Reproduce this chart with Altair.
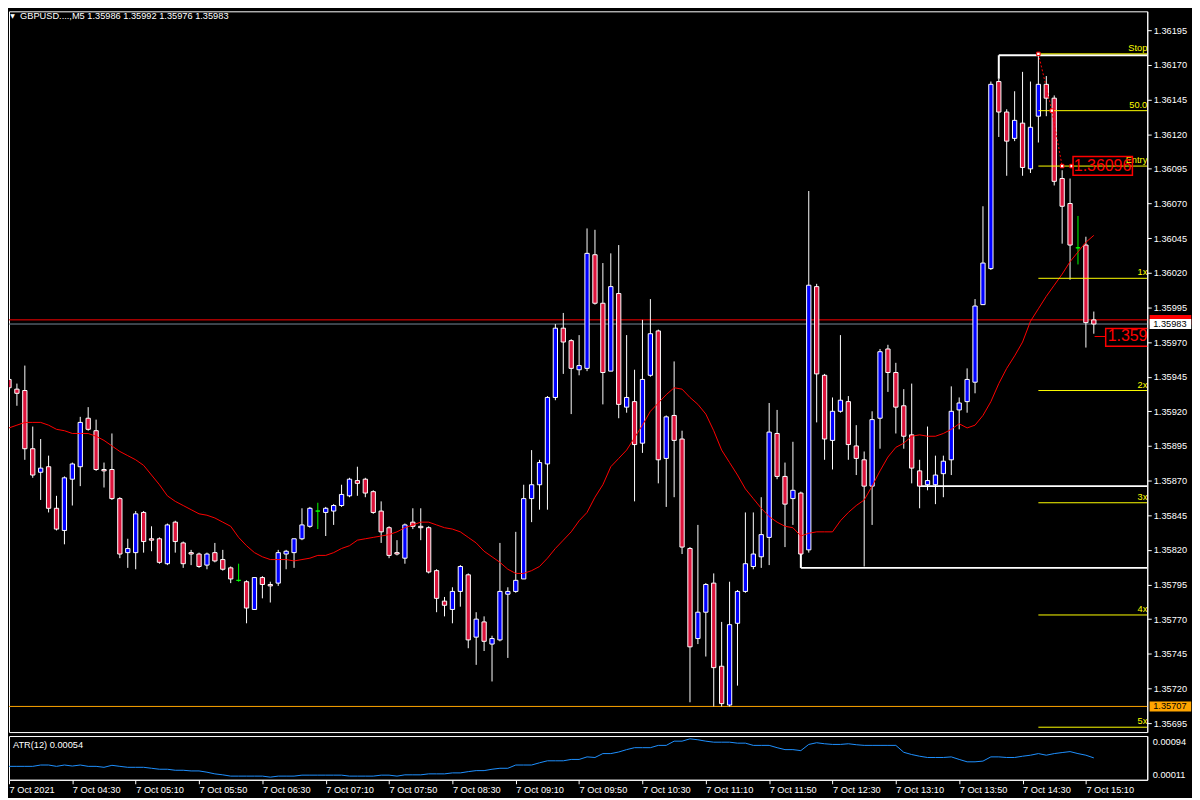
import altair as alt
import pandas as pd

FONT = "Liberation Sans"
FS = 9.3

# ---- GBPUSD M5 candles, prices in points (1e-5), bars 03:50 .. 15:15 ----
opens = [135943,135936,135935,135893,135876,135880,135850,135834,135871,135880,
         135915,135906,135878,135878,135857,135818,135818,135847,135828,135828,
         135810,135840,135825,135818,135817,135809,135818,135813,135807,135798,
         135797,135777,135800,135795,135796,135817,135818,135828,135837,135848,
         135847,135848,135852,135859,135870,135871,135862,135848,135836,135818,
         135814,135840,135837,135836,135805,135783,135777,135790,135802,135757,
         135768,135752,135755,135788,135790,135799,135857,135867,135882,135930,
         135980,135971,135950,135951,136033,135998,135949,136005,135923,135927,
         135897,135946,135978,135886,135917,135900,135821,135756,135775,135796,
         135736,135708,135767,135790,135808,135815,135829,135904,135873,135857,
         135861,135820,136010,135946,135899,135920,135927,135895,135885,135866,
         135915,135965,135948,135924,135903,135877,135867,135867,135875,135885,
         135921,135927,135941,135997,136023,136158,136136,136117,136128,136095,
         136133,136156,136146,136088,136070,136038,136040,135986]
highs = [135960,135940,135953,135909,135900,135888,135859,135873,135883,135916,
         135923,135914,135883,135904,135858,135828,135848,135848,135837,135829,
         135839,135841,135826,135820,135818,135818,135825,135820,135808,135810,
         135798,135800,135801,135797,135820,135820,135828,135850,135851,135854,
         135851,135853,135867,135872,135880,135872,135863,135855,135837,135827,
         135839,135850,135850,135837,135806,135786,135793,135809,135803,135775,
         135772,135758,135825,135793,135833,135867,135892,135885,135931,135983,
         135991,135972,135975,136052,136051,136027,136034,136040,135975,135950,
         135986,136001,135979,135917,135956,135906,135822,135838,135796,135803,
         135768,135797,135791,135847,135847,135858,135926,135921,135883,135898,
         135862,136079,136012,135947,135930,135975,135931,135910,135891,135920,
         135965,135968,135955,135936,135940,135885,135909,135888,135888,135938,
         135930,135951,136001,136068,136158,136160,136138,136151,136165,136158,
         136178,136162,136148,136094,136088,136061,136046,135992]
lows = [135935,135924,135885,135872,135856,135847,135834,135824,135852,135866,
        135906,135877,135865,135856,135814,135807,135806,135818,135819,135810,
        135809,135818,135807,135809,135807,135806,135811,135805,135796,135797,
        135767,135777,135785,135782,135794,135806,135807,135827,135836,135835,
        135830,135838,135851,135858,135859,135858,135846,135825,135814,135816,
        135810,135835,135827,135803,135775,135772,135767,135779,135749,135737,
        135747,135725,135754,135742,135789,135799,135840,135849,135849,135928,
        135947,135918,135946,135949,135997,135925,135949,135915,135919,135855,
        135890,135945,135868,135851,135858,135817,135710,135752,135743,135707,
        135707,135707,135722,135789,135806,135807,135809,135871,135822,135838,
        135807,135818,135912,135885,135878,135919,135885,135874,135808,135838,
        135893,135934,135904,135893,135868,135850,135863,135853,135858,135874,
        135907,135919,135933,135997,136022,136118,136090,136115,136090,136092,
        136114,136133,136083,136041,136015,136026,135966,135976]
closes = [135937,135933,135893,135874,135879,135850,135835,135872,135882,135912,
          135907,135878,135877,135857,135817,135821,135846,135826,135827,135811,
          135838,135826,135810,135817,135808,135817,135812,135806,135799,135798,
          135778,135800,135795,135794,135818,135819,135828,135838,135850,135848,
          135850,135852,135860,135871,135868,135861,135847,135833,135816,135817,
          135838,135837,135836,135804,135785,135780,135790,135808,135755,135770,
          135754,135756,135790,135790,135798,135857,135867,135883,135930,135980,
          135970,135951,135953,136034,135998,135948,136010,135925,135930,135896,
          135943,135976,135885,135916,135899,135822,135750,135775,135795,135735,
          135709,135766,135790,135810,135817,135831,135905,135873,135853,135863,
          135817,136011,135947,135900,135920,135928,135896,135886,135866,135914,
          135963,135948,135923,135902,135879,135866,135870,135874,135884,135920,
          135926,135943,135996,136027,136156,136136,136115,136130,136096,136125,
          136156,136146,136086,136068,136040,136038,135984,135983]

# red moving average (points)
ma_pts = [135908,135910,135912,135912,135912,135910,135907,135906,135904,135904,
          135904,135902,135899,135895,135891,135888,135885,135881,135874,135867,
          135859,135855,135852,135849,135846,135845,135843,135840,135837,135829,
          135823,135818,135815,135813,135813,135813,135812,135813,135814,135816,
          135816,135818,135821,135823,135827,135828,135829,135830,135831,135833,
          135836,135838,135840,135840,135838,135836,135835,135833,135829,135825,
          135819,135815,135811,135806,135803,135803,135805,135808,135814,135821,
          135827,135833,135841,135847,135858,135867,135880,135886,135892,135901,
          135910,135920,135926,135932,135937,135936,135930,135925,135918,135906,
          135892,135883,135874,135864,135857,135850,135844,135840,135837,135836,
          135830,135832,135833,135833,135833,135841,135847,135852,135856,135866,
          135877,135887,135894,135897,135902,135903,135902,135902,135904,135907,
          135911,135908,135910,135917,135927,135940,135951,135960,135970,135985,
          135994,136003,136011,136019,136028,136035,136042,136047]

# ATR(12) in points (1e-5)
atr_pts = [37.4,37.4,37.4,37.4,40.0,40.0,37.4,40.0,38.0,40.0,
           37.4,37.4,35.5,39.4,37.4,35.5,35.5,35.5,33.6,31.7,
           31.7,29.7,29.7,28.4,28.4,25.9,22.6,20.7,18.2,18.2,
           18.2,18.2,18.2,16.2,18.2,18.2,18.2,20.1,20.1,20.1,
           20.1,20.1,20.1,18.2,18.2,18.2,18.2,20.1,20.1,18.2,
           20.7,20.7,20.7,22.6,22.6,22.6,24.5,24.5,27.0,29.0,
           29.0,31.7,33.6,33.6,40.0,40.0,40.0,44.4,48.3,48.3,
           48.3,51.0,51.0,56.0,54.8,62.5,62.5,65.6,70.3,74.1,
           74.1,74.1,78.6,78.6,86.9,86.9,91.5,89.6,86.9,84.9,
           84.9,84.9,83.0,83.0,78.6,78.6,78.6,74.1,70.3,70.3,
           68.3,80.5,83.8,81.8,80.5,80.5,81.8,79.9,78.6,78.6,
           78.6,78.6,78.6,65.0,60.6,57.3,54.8,54.8,54.8,56.0,
           51.0,46.3,46.3,47.7,56.0,56.0,54.8,54.8,57.3,59.3,
           62.5,59.3,62.5,64.5,66.4,62.5,59.3,54.0]

time_labels = ["7 Oct 2021", "7 Oct 04:30", "7 Oct 05:10", "7 Oct 05:50", "7 Oct 06:30",
               "7 Oct 07:10", "7 Oct 07:50", "7 Oct 08:30", "7 Oct 09:10", "7 Oct 09:50",
               "7 Oct 10:30", "7 Oct 11:10", "7 Oct 11:50", "7 Oct 12:30", "7 Oct 13:10",
               "7 Oct 13:50", "7 Oct 14:30", "7 Oct 15:10"]
label_bars = [0, 8, 16, 24, 32, 40, 48, 56, 64, 72, 80, 88, 96, 104, 112, 120, 128, 136]
price_ticks = [1.35695, 1.35720, 1.35745, 1.35770, 1.35795, 1.35820, 1.35845, 1.35870,
               1.35895, 1.35920, 1.35945, 1.35970, 1.35995, 1.36020, 1.36045, 1.36070,
               1.36095, 1.36120, 1.36145, 1.36170, 1.36195]
atr_ticks = [0.00011, 0.00094]

hline_prices = [1.35986, 1.35983, 1.35707]
hline_colors = ["#FF0000", "#778899", "#FFA500"]

fib_names = ["Stop", "50.0", "Entry", "1x", "2x", "3x", "4x", "5x"]
fib_prices = [1.36178, 1.36137, 1.36097, 1.36016, 1.35935, 1.35854, 1.35773, 1.35692]
fib_start = 130

bracket_x1 = [125, 125, 115, 100, 100]
bracket_x2 = [143.75, 125, 143.75, 143.75, 100]
bracket_p1 = [1.36177, 1.36177, 1.35866, 1.35807, 1.35807]
bracket_p2 = [1.36177, 1.36160, 1.35866, 1.35807, 1.35817]

path_k = [130, 131.7, 133.0]
path_p = [1.36178, 1.36137, 1.36097]
marker_k = [130, 131.7, 133.0, 134.2]
marker_p = [1.36178, 1.36137, 1.36097, 1.36097]

header_text = "GBPUSD....,M5  1.35986 1.35992 1.35976 1.35983"
atr_title = "ATR(12) 0.00054"

X_MAX = 143.75
P_MIN, P_MAX = 1.356885, 1.362087

# ---------------- data frames ----------------
n = len(opens)
df = pd.DataFrame({
    "k": list(range(n)),
    "o": [v / 1e5 for v in opens],
    "h": [v / 1e5 for v in highs],
    "l": [v / 1e5 for v in lows],
    "c": [v / 1e5 for v in closes],
    "ma": [v / 1e5 for v in ma_pts],
})
df["kind"] = ["flat" if o == c else ("up" if c > o else "down") for o, c in zip(opens, closes)]
df["x0"] = df["k"] - 0.27
df["x1"] = df["k"] + 0.27

atr_df = pd.DataFrame({"k": list(range(n)), "atr": [v / 1e5 for v in atr_pts]})

xs = alt.Scale(domain=[0, X_MAX], nice=False, zero=False)
ys = alt.Scale(domain=[P_MIN, P_MAX], nice=False, zero=False)

yax = alt.Axis(orient="right", values=price_ticks, format=".5f", title=None, grid=False,
               labelColor="#FFFFFF", tickColor="#FFFFFF", domainColor="#FFFFFF",
               tickSize=4, labelPadding=2, labelFont=FONT, labelFontSize=FS,
               labelFlush=False, labelOverlap=False)


def X(f):
    return alt.X(f"{f}:Q", scale=xs, axis=None)


def Y(f):
    return alt.Y(f"{f}:Q", scale=ys, axis=yax)


kind_dom = ["up", "down", "flat"]
stroke_sc = alt.Scale(domain=kind_dom, range=["#FFFFFF", "#FFFFFF", "#00FF00"])
fill_sc = alt.Scale(domain=kind_dom, range=["#0000FF", "#DC143C", "#00FF00"])

layers = []

# horizontal price lines
for p, col in zip(hline_prices, hline_colors):
    layers.append(alt.Chart(pd.DataFrame({"p": [p]})).mark_rule(color=col, strokeWidth=1)
                  .encode(y=Y("p")))

# white bracket lines
br = pd.DataFrame({"x1": bracket_x1, "x2": bracket_x2, "p1": bracket_p1, "p2": bracket_p2})
layers.append(alt.Chart(br).mark_rule(color="#FFFFFF", strokeWidth=2, clip=True)
              .encode(x=X("x1"), x2="x2", y=Y("p1"), y2="p2"))

# candles
layers.append(alt.Chart(df).mark_rule(strokeWidth=1, clip=True).encode(
    x=X("k"), y=Y("l"), y2="h",
    stroke=alt.Stroke("kind:N", scale=stroke_sc, legend=None)))
layers.append(alt.Chart(df).mark_rect(strokeWidth=1, clip=True).encode(
    x=X("x0"), x2="x1", y=Y("o"), y2="c",
    fill=alt.Fill("kind:N", scale=fill_sc, legend=None),
    stroke=alt.Stroke("kind:N", scale=stroke_sc, legend=None)))

# moving average
layers.append(alt.Chart(df).mark_line(color="#FF0000", strokeWidth=1, clip=True)
              .encode(x=X("k"), y=Y("ma")))

# fib levels
fib = pd.DataFrame({"name": fib_names, "p": fib_prices,
                    "x1": [fib_start] * len(fib_names), "x2": [X_MAX] * len(fib_names)})
layers.append(alt.Chart(fib).mark_rule(color="#FFFF00", strokeWidth=1, clip=True)
              .encode(x=X("x1"), x2="x2", y=Y("p")))
layers.append(alt.Chart(fib).mark_text(color="#FFFF00", align="right", baseline="bottom", dy=-1,
                                       font=FONT, fontSize=FS, clip=True)
              .encode(x=X("x2"), y=Y("p"), text="name:N"))

# red dotted path with markers
path = pd.DataFrame({"k": path_k, "p": path_p})
layers.append(alt.Chart(path).mark_line(color="#FF0000", strokeWidth=1, strokeDash=[2, 2], clip=True)
              .encode(x=X("k"), y=Y("p")))
mk = pd.DataFrame({"k": marker_k, "p": marker_p})
layers.append(alt.Chart(mk).mark_square(size=12, fill="#FFFFFF", stroke="#FF0000", strokeWidth=1,
                                        opacity=1, clip=True)
              .encode(x=X("k"), y=Y("p")))

# entry price box
eb = pd.DataFrame({"x1": [134.375], "x2": [141.875], "p1": [1.360903], "p2": [1.361039],
                   "tx": [138.1], "tp": [1.36097], "t": ["1.36096"]})
layers.append(alt.Chart(eb).mark_rect(fillOpacity=0, stroke="#FF0000", strokeWidth=1.5, clip=True)
              .encode(x=X("x1"), x2="x2", y=Y("p1"), y2="p2"))
layers.append(alt.Chart(eb).mark_text(color="#FF0000", font=FONT, fontSize=16, align="center",
                                      baseline="middle", clip=True)
              .encode(x=X("tx"), y=Y("tp"), text="t:N"))

# current price box at the right edge (clipped)
cb = pd.DataFrame({"x1": [138.5], "x2": [147.0], "p1": [1.359669], "p2": [1.359798],
                   "lx": [137.1], "tx": [138.75], "tp": [1.35974], "t": ["1.35974"]})
layers.append(alt.Chart(cb).mark_rule(color="#FF0000", strokeWidth=1, clip=True)
              .encode(x=X("lx"), x2="x1", y=Y("tp")))
layers.append(alt.Chart(cb).mark_rect(fillOpacity=0, stroke="#FF0000", strokeWidth=1.5, clip=True)
              .encode(x=X("x1"), x2="x2", y=Y("p1"), y2="p2"))
layers.append(alt.Chart(cb).mark_text(color="#FF0000", font=FONT, fontSize=16, align="left",
                                      baseline="middle", clip=True)
              .encode(x=X("tx"), y=Y("tp"), text="t:N"))

# header
hd = pd.DataFrame({"k": [1.4], "p": [1.362055], "t": [header_text],
                   "kt": [0.45], "tri": ["\u25BC"]})
layers.append(alt.Chart(hd).mark_text(color="#FFFFFF", font=FONT, fontSize=FS, align="left",
                                      baseline="middle")
              .encode(x=X("k"), y=Y("p"), text="t:N"))
layers.append(alt.Chart(hd).mark_text(color="#FFFFFF", font="DejaVu Sans", fontSize=6,
                                      align="center", baseline="middle")
              .encode(x=X("kt"), y=Y("p"), text="tri:N"))

# price tags on the right axis
tags = pd.DataFrame({"x1": [144.05, 144.05, 144.05], "x2": [149.3, 149.3, 149.3],
                     "p1": [1.359824, 1.359794, 1.357034], "p2": [1.359896, 1.359866, 1.357106],
                     "fillc": ["#FF0000", "#FFFFFF", "#FFA500"]})
for i in range(3):
    layers.append(alt.Chart(tags.iloc[[i]]).mark_rect(color=tags["fillc"][i], clip=False)
                  .encode(x=X("x1"), x2="x2", y=Y("p1"), y2="p2"))
tag_txt = pd.DataFrame({"k": [144.5, 144.5], "p": [1.35983, 1.35707], "t": ["1.35983", "1.35707"]})
layers.append(alt.Chart(tag_txt).mark_text(color="#000000", font=FONT, fontSize=FS, align="left",
                                           baseline="middle", clip=False)
              .encode(x=X("k"), y=Y("p"), text="t:N"))

main = alt.layer(*layers).properties(width=1145, height=725)

# ---------------- ATR panel ----------------
label_expr = "[" + ",".join(f"'{t}'" for t in time_labels) + "][round(datum.value/8)]"
xax = alt.Axis(values=label_bars, labelExpr=label_expr, labelAlign="left", labelBaseline="top",
               labelColor="#FFFFFF", tickColor="#FFFFFF", domainColor="#FFFFFF", tickSize=4,
               labelPadding=2, labelFont=FONT, labelFontSize=FS, grid=False, title=None,
               labelFlush=False, labelOverlap=False)
atr_sc = alt.Scale(domain=[0.00011, 0.00097], nice=False, zero=False)
atr_ax = alt.Axis(orient="right", values=atr_ticks, format=".5f", title=None, grid=False,
                  labelColor="#FFFFFF", domainColor="#FFFFFF", ticks=False, tickSize=0,
                  labelPadding=5, labelFont=FONT, labelFontSize=FS,
                  labelBaseline={"condition": {"test": "datum.value > 0.0005", "value": "top"},
                                 "value": "bottom"},
                  labelFlush=False, labelOverlap=False)

atr_line = alt.Chart(atr_df).mark_line(color="#1E90FF", strokeWidth=1, clip=True).encode(
    x=alt.X("k:Q", scale=xs, axis=xax),
    y=alt.Y("atr:Q", scale=atr_sc, axis=atr_ax))
atr_lab = alt.Chart(pd.DataFrame({"k": [0.5], "v": [0.000795], "t": [atr_title]})).mark_text(
    color="#FFFFFF", font=FONT, fontSize=FS, align="left", baseline="middle").encode(
    x=alt.X("k:Q", scale=xs, axis=xax),
    y=alt.Y("v:Q", scale=atr_sc, axis=atr_ax),
    text="t:N")
atr = alt.layer(atr_line, atr_lab).properties(width=1145, height=44)

chart = alt.vconcat(main, atr, spacing=2).properties(
    padding={"left": 0, "top": 0, "right": 0, "bottom": 0},
).configure(background="#000000").configure_view(stroke="#FFFFFF", strokeWidth=1)

chart.save("out.html", embed_options={"renderer": "svg", "actions": False})
